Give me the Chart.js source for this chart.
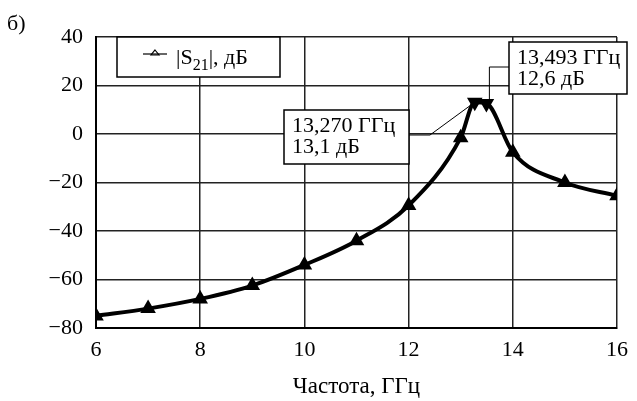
<!DOCTYPE html>
<html>
<head>
<meta charset="utf-8">
<script src="https://cdn.jsdelivr.net/npm/chart.js@4.4.0/dist/chart.umd.min.js"></script>
<style>
  html, body { margin: 0; padding: 0; background: #fff; }
  #wrap { width: 637px; height: 401px; position: relative; }
</style>
</head>
<body>
<div id="wrap"><canvas id="chart" width="637" height="401"></canvas></div>
<script>
// data
const freqGHz = [6, 7, 8, 9, 10, 11, 12, 13, 13.27, 13.493, 14, 15, 16];
const s21dB = [-75, -72, -68, -62.5, -54, -44, -29.5, -1.5, 13.1, 12.6, -7.5, -20, -25.5];
const xTicks = [6, 8, 10, 12, 14, 16];
const yTicks = [40, 20, 0, -20, -40, -60, -80];
const peakLabels = [
    ['13,270 ГГц', '13,1 дБ'],
    ['13,493 ГГц', '12,6 дБ']
];

const FONT = "'Liberation Serif', 'Times New Roman', serif";
const FS = 22;

const points = freqGHz.map((f, i) => ({ x: f, y: s21dB[i] }));

function drawBox(ctx, x, y, w, h, lines) {
    ctx.save();
    ctx.fillStyle = '#fff';
    ctx.fillRect(x, y, w, h);
    ctx.strokeStyle = '#000';
    ctx.lineWidth = 1.5;
    ctx.strokeRect(x, y, w, h);
    ctx.fillStyle = '#000';
    ctx.font = FS + 'px ' + FONT;
    ctx.textBaseline = 'alphabetic';
    ctx.textAlign = 'left';
    lines.forEach((t, i) => ctx.fillText(t, x + 8, y + 22 + i * 21));
    ctx.restore();
}

const extras = {
    id: 'extras',
    afterDraw(chart) {
        const ctx = chart.ctx;
        const xs = chart.scales.x, ys = chart.scales.y;

        // "б)" label
        ctx.save();
        ctx.fillStyle = '#000';
        ctx.font = FS + 'px ' + FONT;
        ctx.textBaseline = 'middle';
        ctx.fillText('б)', 7, 24);
        ctx.restore();

        // legend box
        ctx.save();
        ctx.fillStyle = '#fff';
        ctx.fillRect(117, 37, 163, 40);
        ctx.strokeStyle = '#000';
        ctx.lineWidth = 1.5;
        ctx.strokeRect(117, 37, 163, 40);
        ctx.beginPath();
        ctx.moveTo(143, 54);
        ctx.lineTo(167, 54);
        ctx.lineWidth = 1.2;
        ctx.stroke();
        ctx.beginPath();
        ctx.moveTo(155, 50);
        ctx.lineTo(159, 55);
        ctx.lineTo(151, 55);
        ctx.closePath();
        ctx.stroke();
        ctx.fillStyle = '#000';
        ctx.font = FS + 'px ' + FONT;
        ctx.textBaseline = 'alphabetic';
        let tx = 176;
        ctx.fillText('|S', tx, 64);
        tx += ctx.measureText('|S').width;
        ctx.font = '16px ' + FONT;
        ctx.fillText('21', tx, 70);
        tx += ctx.measureText('21').width;
        ctx.font = FS + 'px ' + FONT;
        ctx.fillText('|, дБ', tx, 64);
        ctx.restore();

        // connectors to the peak points
        const p1x = xs.getPixelForValue(freqGHz[8]), p1y = ys.getPixelForValue(s21dB[8]);
        const p2x = xs.getPixelForValue(freqGHz[9]), p2y = ys.getPixelForValue(s21dB[9]);
        ctx.save();
        ctx.strokeStyle = '#000';
        ctx.lineWidth = 1;
        ctx.beginPath();
        ctx.moveTo(409, 135);
        ctx.lineTo(430, 135);
        ctx.lineTo(p1x, p1y);
        ctx.stroke();
        ctx.beginPath();
        ctx.moveTo(509, 67);
        ctx.lineTo(p2x + 3, 67);
        ctx.lineTo(p2x + 3, p2y);
        ctx.stroke();
        ctx.restore();

        drawBox(ctx, 284, 110, 125, 54, peakLabels[0]);
        drawBox(ctx, 509, 42, 118, 52, peakLabels[1]);
    }
};

new Chart(document.getElementById('chart'), {
    type: 'line',
    data: {
        datasets: [{
            label: '|S21|, дБ',
            data: points,
            borderColor: '#000',
            backgroundColor: '#000',
            borderWidth: 4,
            cubicInterpolationMode: 'monotone',
            pointStyle: 'triangle',
            pointRadius: 5,
            pointRotation: c => (c.raw && c.raw.y > 10 ? 180 : 0),
            pointBackgroundColor: '#000',
            pointBorderColor: '#000'
        }]
    },
    options: {
        responsive: false,
        animation: false,
        layout: { padding: { left: 0, right: 9, top: 37, bottom: 0 } },
        plugins: {
            legend: { display: false },
            tooltip: { enabled: false }
        },
        scales: {
            x: {
                type: 'linear',
                min: 6,
                max: 16,
                afterBuildTicks: axis => { axis.ticks = xTicks.map(v => ({ value: v })); },
                afterFit: axis => { axis.height = 73; },
                grid: { color: '#222', lineWidth: 1.5, drawTicks: false },
                border: { color: '#000', width: 2 },
                ticks: {
                    color: '#000',
                    padding: 9,
                    font: { family: FONT, size: FS }
                },
                title: {
                    display: true,
                    text: 'Частота, ГГц',
                    color: '#000',
                    padding: { top: 6, bottom: 0 },
                    font: { family: FONT, size: 23 }
                }
            },
            y: {
                min: -80,
                max: 40,
                afterBuildTicks: axis => { axis.ticks = yTicks.map(v => ({ value: v })); },
                afterFit: axis => { axis.width = 96; },
                grid: { color: '#222', lineWidth: 1.5, drawTicks: false },
                border: { color: '#000', width: 2 },
                ticks: {
                    color: '#000',
                    padding: 13,
                    font: { family: FONT, size: FS },
                    callback: v => String(v).replace('-', '−')
                }
            }
        }
    },
    plugins: [extras]
});
</script>
</body>
</html>
